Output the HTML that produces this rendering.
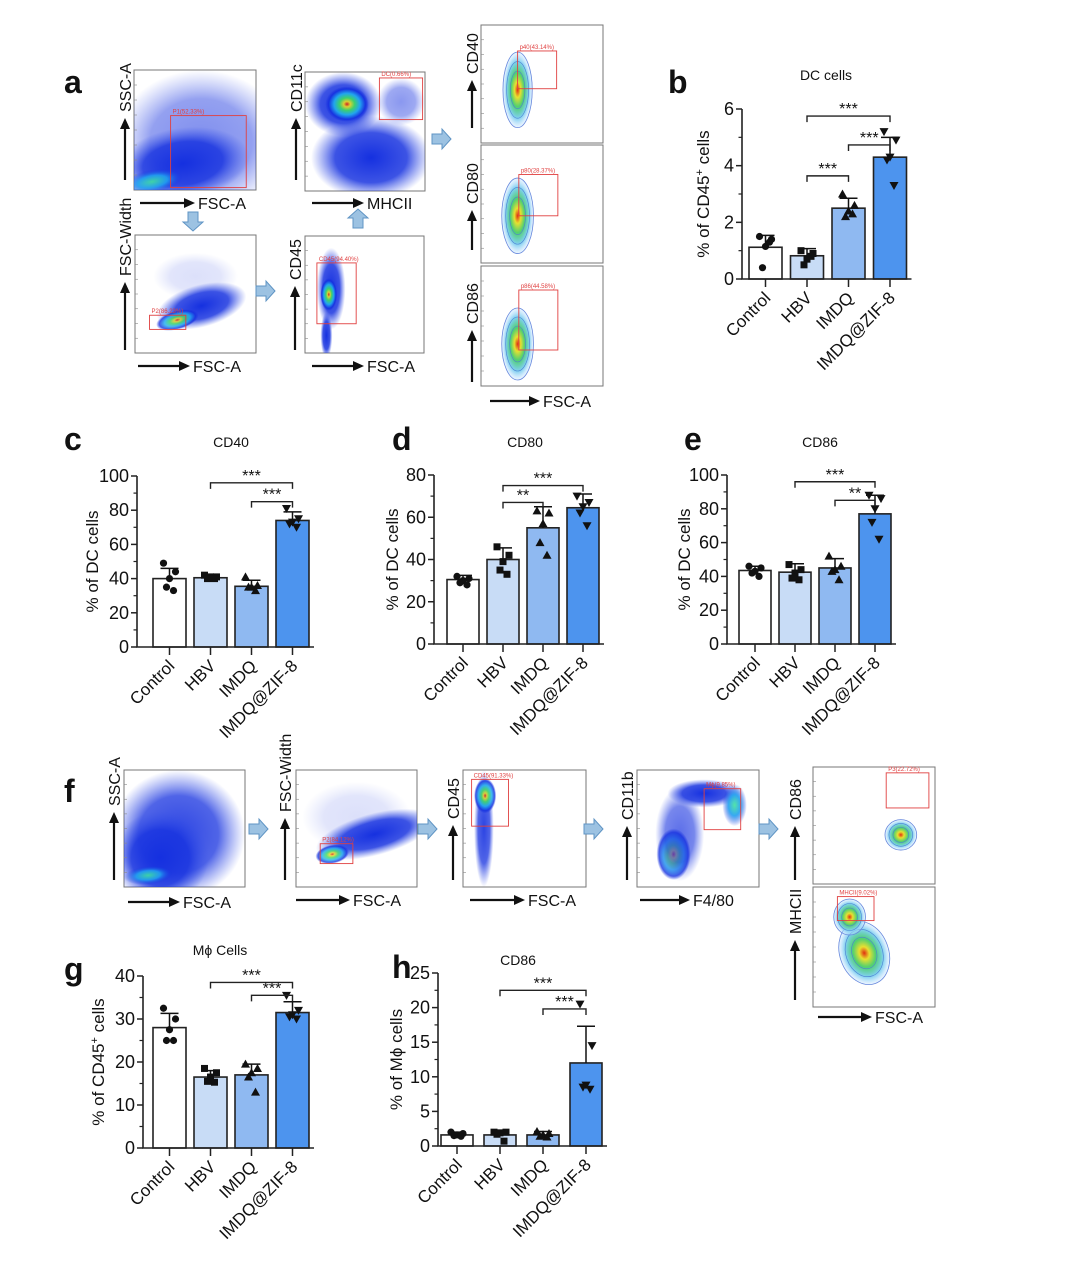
<!DOCTYPE html>
<html><head><meta charset="utf-8">
<style>
html,body{margin:0;padding:0;background:#fff;}
svg{display:block;font-family:"Liberation Sans",Arial,sans-serif;}
</style></head>
<body>
<svg id="fig" width="1080" height="1264" viewBox="0 0 1080 1264" xmlns="http://www.w3.org/2000/svg">
<defs>
<radialGradient id="scat"><stop offset="0" stop-color="#1530e0" stop-opacity="1"/><stop offset="0.6" stop-color="#1a35e0" stop-opacity="0.85"/><stop offset="1" stop-color="#3a55e8" stop-opacity="0"/></radialGradient>
<radialGradient id="hot"><stop offset="0" stop-color="#e02010"/><stop offset="0.15" stop-color="#f0e020"/><stop offset="0.35" stop-color="#40e060"/><stop offset="0.6" stop-color="#20b0f0"/><stop offset="0.85" stop-color="#1530e0"/><stop offset="1" stop-color="#1530e0" stop-opacity="0"/></radialGradient>
<radialGradient id="cyan"><stop offset="0" stop-color="#40e0a0"/><stop offset="0.5" stop-color="#20a0f0"/><stop offset="1" stop-color="#1530e0" stop-opacity="0"/></radialGradient>
<radialGradient id="cont"><stop offset="0" stop-color="#e03010"/><stop offset="0.2" stop-color="#e8e030"/><stop offset="0.45" stop-color="#50d070"/><stop offset="0.75" stop-color="#80d0f0"/><stop offset="1" stop-color="#c0e0ff" stop-opacity="0.3"/></radialGradient>
</defs>
<g id="flows"></g>
<g id="charts"></g>
</svg>
<script>
const NS='http://www.w3.org/2000/svg';
const svg=document.getElementById('fig');
const FL=document.getElementById('flows');
const CH=document.getElementById('charts');
function mk(tag,attrs,parent,text){const e=document.createElementNS(NS,tag);for(const k in attrs)e.setAttribute(k,attrs[k]);if(text!==undefined)e.textContent=text;(parent||svg).appendChild(e);return e;}

// ---------- chart data ----------
const categories=['Control','HBV','IMDQ','IMDQ@ZIF-8'];
const bMeans=[1.12,0.82,2.5,4.3];
const bSD=[0.42,0.25,0.35,0.7];
const bPts=[[1.5,1.4,1.15,0.4,1.3],[1.0,0.9,0.7,0.5,0.8],[3.0,2.6,2.4,2.2,2.3],[5.2,4.9,4.3,4.2,3.3]];
const bSig=[[1,3,5.75,'***'],[2,3,4.73,'***'],[1,2,3.64,'***']];
const bTicks=[0,2,4,6];
const cMeans=[40,40.5,35.5,74];
const cSD=[6,2,3.5,5];
const cPts=[[49,44,40,35,33],[42,41,41,40,40],[41,36,35,35,33],[81,75,73,72,70]];
const cSig=[[1,3,96,'***'],[2,3,85,'***']];
const cTicks=[0,20,40,60,80,100];
const dMeans=[30.5,40,55,64.5];
const dSD=[2,5.5,10,6.5];
const dPts=[[32,31,30,29,28],[46,42,39,35,33],[63,62,57,48,42],[70,67,65,62,56]];
const dSig=[[1,3,75,'***'],[1,2,67,'**']];
const dTicks=[0,20,40,60,80];
const eMeans=[43.5,42.5,45,77];
const eSD=[2.5,5,5.5,11];
const ePts=[[46,45,43,42,40],[47,44,42,39,38],[52,46,44,43,38],[88,86,80,72,62]];
const eSig=[[1,3,96,'***'],[2,3,85,'**']];
const eTicks=[0,20,40,60,80,100];
const gMeans=[28,16.5,17,31.5];
const gSD=[3.3,1.5,2.5,2.5];
const gPts=[[32.5,30,27.5,25,25],[18.5,17.5,16.5,15.5,15.3],[19.5,18.5,17.5,16.5,13],[35.5,32,31,30.5,30]];
const gSig=[[1,3,38.5,'***'],[2,3,35.5,'***']];
const gTicks=[0,10,20,30,40];
const hMeans=[1.6,1.6,1.6,12];
const hSD=[0.4,0.5,0.5,5.3];
const hPts=[[2,1.8,1.6,1.5,1.4],[2,2,1.9,1.7,0.7],[2.1,1.8,1.6,1.4,1.3],[20.5,14.5,8.8,8.5,8.2]];
const hSig=[[1,3,22.5,'***'],[2,3,19.8,'***']];
const hTicks=[0,5,10,15,20,25];

const fills=['#ffffff','#c8dcf6','#8fb9f1','#4d94ee'];

function marker(g,shape,x,y){
  let m;
  if(shape===0)m=mk('circle',{cx:x,cy:y,r:3.6,fill:'#111'},g);
  else if(shape===1)m=mk('rect',{x:x-3.5,y:y-3.5,width:7,height:7,fill:'#111'},g);
  else if(shape===2)m=mk('polygon',{points:`${x},${y-4.5} ${x-4.5},${y+3.5} ${x+4.5},${y+3.5}`,fill:'#111'},g);
  else m=mk('polygon',{points:`${x},${y+4.5} ${x-4.5},${y-3.5} ${x+4.5},${y-3.5}`,fill:'#111'},g);
  
  
}

function chart(o){
  const g=mk('g',{},CH);
  
  
  const max=o.ticks[o.ticks.length-1];
  const Y=v=>o.y0-(v/max)*(o.y0-o.yTop);
  const X=i=>o.bx+i*o.pitch+o.bw/2;
  o.means.forEach((v,i)=>{
    const r=mk('rect',{x:o.bx+i*o.pitch,y:Y(v),width:o.bw,height:o.y0-Y(v),fill:fills[i],stroke:'#222','stroke-width':1.6},g);
    
    
  });
  o.means.forEach((v,i)=>{
    const x=X(i),t=Y(v+o.sd[i]);
    const e=mk('path',{d:`M${x},${Y(v)}V${t}M${x-9},${t}H${x+9}`,stroke:'#111','stroke-width':1.5,fill:'none'},g);
    
    
  });
  o.pts.forEach((arr,i)=>{
    arr.forEach((v,j)=>{const off=[-6,6,0,-3,4][j];marker(g,i,X(i)+off,Y(v));});
  });
  const ax=mk('path',{d:`M${o.ax},${o.yTop}V${o.y0}H${o.bx+3*o.pitch+o.bw+5}`,stroke:'#222','stroke-width':1.6,fill:'none'},g);
  
  
  o.ticks.forEach((t,k)=>{
    const y=Y(t);
    mk('line',{x1:o.ax-6,x2:o.ax,y1:y,y2:y,stroke:'#222','stroke-width':1.5},g);
    if(k<o.ticks.length-1){const ym=Y(t+(o.ticks[1]-o.ticks[0])/2);mk('line',{x1:o.ax-3.5,x2:o.ax,y1:ym,y2:ym,stroke:'#222','stroke-width':1.2},g);}
    const tl=mk('text',{x:o.ax-8,y:y+6,'text-anchor':'end','font-size':18,fill:'#111'},g,String(t));
    
    
  });
  categories.forEach((c,i)=>{
    const x=X(i);
    mk('line',{x1:x,x2:x,y1:o.y0,y2:o.y0+8,stroke:'#222','stroke-width':1.5},g);
    const tl=mk('text',{x:x+6,y:o.y0+20,'text-anchor':'end','font-size':17,fill:'#111',transform:`rotate(-45 ${x+6} ${o.y0+20})`},g,c);
    
    
  });
  const yc=(o.y0+o.yTop)/2;
  const yt=mk('text',{x:o.ytx,y:yc,'text-anchor':'middle','font-size':17,fill:'#111',transform:`rotate(-90 ${o.ytx} ${yc})`},g);
  
  
  if(o.sup){
    mk('tspan',{},yt,o.ytitle[0]);mk('tspan',{dy:-6,'font-size':11},yt,o.sup);mk('tspan',{dy:6},yt,o.ytitle[1]);
  } else yt.textContent=o.ytitle;
  const tt=mk('text',{x:o.tx,y:o.ty,'text-anchor':'middle','font-size':14,fill:'#111'},g,o.title);
  
  
  o.sig.forEach(s=>{
    const x1=X(s[0]),x2=X(s[1]),y=Y(s[2]);
    const b=mk('path',{d:`M${x1},${y+6}V${y}H${x2}V${y+6}`,stroke:'#222','stroke-width':1.4,fill:'none'},g);
    
    
    const st=mk('text',{x:(x1+x2)/2,y:y-2,'text-anchor':'middle','font-size':16,fill:'#111'},g,s[3]);
    
    
  });
}

chart({name:'chart-b-dc-cells',ax:742,y0:279,yTop:109,bx:749,pitch:41.5,bw:33,ticks:bTicks,means:bMeans,sd:bSD,pts:bPts,sig:bSig,ytitle:['% of CD45',' cells'],sup:'+',ytx:709,title:'DC cells',tx:826,ty:80});
chart({name:'chart-c-cd40',ax:137,y0:647,yTop:476,bx:153,pitch:41,bw:33,ticks:cTicks,means:cMeans,sd:cSD,pts:cPts,sig:cSig,ytitle:'% of DC cells',ytx:98,title:'CD40',tx:231,ty:447});
chart({name:'chart-d-cd80',ax:434,y0:644,yTop:475,bx:447,pitch:40,bw:32,ticks:dTicks,means:dMeans,sd:dSD,pts:dPts,sig:dSig,ytitle:'% of DC cells',ytx:398,title:'CD80',tx:525,ty:447});
chart({name:'chart-e-cd86',ax:727,y0:644,yTop:475,bx:739,pitch:40,bw:32,ticks:eTicks,means:eMeans,sd:eSD,pts:ePts,sig:eSig,ytitle:'% of DC cells',ytx:690,title:'CD86',tx:820,ty:447});
chart({name:'chart-g-macrophage',ax:143,y0:1148,yTop:976,bx:153,pitch:41,bw:33,ticks:gTicks,means:gMeans,sd:gSD,pts:gPts,sig:gSig,ytitle:['% of CD45',' cells'],sup:'+',ytx:104,title:'Mϕ Cells',tx:220,ty:955});
chart({name:'chart-h-cd86-macrophage',ax:438,y0:1146,yTop:973,bx:441,pitch:43,bw:32,ticks:hTicks,means:hMeans,sd:hSD,pts:hPts,sig:hSig,ytitle:'% of Mϕ  cells',ytx:402,title:'CD86',tx:518,ty:965});

[['a',64,93],['b',668,93],['c',64,450],['d',392,450],['e',684,450],['f',64,802],['g',64,980],['h',392,978]].forEach(l=>{
  const t=mk('text',{x:l[1],y:l[2],'font-size':32,'font-weight':'bold',fill:'#111'},svg,l[0]);
  
  
});

function arrowV(x,y1,y2,label){
  mk('line',{x1:x,x2:x,y1:y1,y2:y2+8,stroke:'#111','stroke-width':2.2},FL);
  mk('polygon',{points:`${x},${y2} ${x-5},${y2+11} ${x+5},${y2+11}`,fill:'#111'},FL);
  const t=mk('text',{x:x+6,y:y2-6,'font-size':16,fill:'#111',transform:`rotate(-90 ${x+6} ${y2-6})`},FL,label);
  
  
}
function arrowH(x1,x2,y,label){
  mk('line',{x1:x1,x2:x2-8,y1:y,y2:y,stroke:'#111','stroke-width':2.2},FL);
  mk('polygon',{points:`${x2},${y} ${x2-11},${y-5} ${x2-11},${y+5}`,fill:'#111'},FL);
  const t=mk('text',{x:x2+3,y:y+6,'font-size':16,fill:'#111'},FL,label);
  
  
}
function fat(x,y,dir){
  const p={r:`-9,-5 1,-5 1,-10 10,0 1,10 1,5 -9,5`,d:`-5,-9 5,-9 5,1 10,1 0,10 -10,1 -5,1`,u:`-5,9 5,9 5,-1 10,-1 0,-10 -10,-1 -5,-1`}[dir];
  const a=mk('polygon',{points:p,transform:`translate(${x} ${y})`,fill:'#9cc2e2',stroke:'#5f94c4','stroke-width':1},FL);
  
  
}
function flow(name,x,y,w,h,blobs,gate){
  const g=mk('g',{},FL);
  
  
  mk('rect',{x:x,y:y,width:w,height:h,fill:'#fff',stroke:'#777','stroke-width':1},g);
  const cp='cp'+name;
  const c=mk('clipPath',{id:cp},g);mk('rect',{x:x,y:y,width:w,height:h},c);
  const inner=mk('g',{'clip-path':`url(#${cp})`},g);
  blobs.forEach(b=>{
    const [fx,fy,rx,ry,rot,type,op]=b;
    const cx=x+fx*w,cy=y+fy*h;
    if(type==='contour'){
      mk('ellipse',{cx:cx,cy:cy,rx:rx*w,ry:ry*h,transform:`rotate(${rot} ${cx} ${cy})`,fill:'url(#cont)',stroke:'#6688dd','stroke-width':0.8},inner);
      [0.75,0.5].forEach(s=>mk('ellipse',{cx:cx,cy:cy,rx:rx*w*s,ry:ry*h*s,transform:`rotate(${rot} ${cx} ${cy})`,fill:'none',stroke:'#4d7fd0','stroke-width':0.6},inner));
    } else mk('ellipse',{cx:cx,cy:cy,rx:rx*w,ry:ry*h,transform:`rotate(${rot} ${cx} ${cy})`,fill:`url(#${type})`,opacity:op||1},inner);
  });
  if(gate){const gr=mk('rect',{x:x+gate[0]*w,y:y+gate[1]*h,width:gate[2]*w,height:gate[3]*h,fill:'none',stroke:'#e04040','stroke-width':0.9},g);
    
    mk('text',{x:x+gate[0]*w+2,y:y+gate[1]*h-2,'font-size':6,fill:'#e04040'},g,gate[4]);}
  for(let i=1;i<8;i++)mk('line',{x1:x,x2:x+3,y1:y+i*h/8,y2:y+i*h/8,stroke:'#888','stroke-width':0.6},g);
}
flow('flow-ssc-fsc',134,70,122,120,[[0.55,0.6,0.7,0.6,0,'scat',0.55],[0.4,0.78,0.55,0.3,-8,'scat',1],[0.15,0.93,0.25,0.1,-10,'cyan',0.9]],[0.3,0.38,0.62,0.6,'P1(52.33%)']);
flow('flow-cd11c-mhcii',305,72,120,119,[[0.32,0.27,0.32,0.27,0,'scat',1],[0.35,0.27,0.18,0.15,0,'hot',0.9],[0.55,0.72,0.5,0.35,0,'scat',1],[0.8,0.25,0.2,0.2,0,'scat',0.5]],[0.62,0.05,0.36,0.35,'DC(0.66%)']);
flow('flow-fscwidth-fsc',135,235,121,118,[[0.55,0.6,0.38,0.18,-15,'scat',1],[0.35,0.72,0.18,0.08,-15,'hot',0.8],[0.5,0.35,0.35,0.2,0,'scat',0.15]],[0.12,0.68,0.3,0.12,'P2(86.23%)']);
flow('flow-cd45-fsc',305,236,119,117,[[0.22,0.45,0.12,0.35,0,'scat',1],[0.2,0.5,0.07,0.14,0,'hot',0.9],[0.18,0.85,0.05,0.2,0,'scat',1]],[0.1,0.23,0.33,0.52,'CD45(94.40%)']);
flow('flow-cd40',481,25,122,118,[[0.3,0.55,0.12,0.32,0,'contour']],[0.3,0.22,0.32,0.32,'p40(43.14%)']);
flow('flow-cd80',481,145,122,118,[[0.3,0.6,0.13,0.32,0,'contour']],[0.31,0.25,0.32,0.35,'p80(28.37%)']);
flow('flow-cd86',481,266,122,120,[[0.3,0.65,0.13,0.3,0,'contour']],[0.31,0.2,0.32,0.5,'p86(44.58%)']);
arrowV(125,180,118,'SSC-A');arrowH(140,195,203,'FSC-A');
arrowV(296,180,118,'CD11c');arrowH(312,364,203,'MHCII');
arrowV(125,350,282,'FSC-Width');arrowH(138,190,366,'FSC-A');
arrowV(295,350,286,'CD45');arrowH(312,364,366,'FSC-A');
arrowV(472,128,80,'CD40');arrowV(472,250,210,'CD80');arrowV(472,382,330,'CD86');
arrowH(490,540,401,'FSC-A');
fat(193,221,'d');fat(358,219,'u');fat(265,291,'r');fat(441,139,'r');
flow('flow-f-ssc-fsc',124,770,121,117,[[0.45,0.55,0.55,0.55,0,'scat',0.9],[0.3,0.75,0.4,0.4,0,'scat',1],[0.2,0.9,0.2,0.08,-5,'cyan',0.9]],null);
flow('flow-f-fscwidth-fsc',296,770,121,117,[[0.65,0.55,0.5,0.18,-15,'scat',1],[0.3,0.72,0.14,0.08,-10,'hot',0.8],[0.5,0.4,0.45,0.3,0,'scat',0.15]],[0.2,0.63,0.27,0.17,'P2(84.12%)']);
flow('flow-f-cd45-fsc',463,770,123,117,[[0.17,0.5,0.08,0.5,0,'scat',0.9],[0.18,0.22,0.09,0.15,0,'hot',0.85]],[0.07,0.08,0.3,0.4,'CD45(91.33%)']);
flow('flow-f-cd11b-f480',637,770,122,117,[[0.3,0.72,0.14,0.22,0,'hot',0.8],[0.35,0.55,0.2,0.4,0,'scat',0.7],[0.55,0.2,0.3,0.12,0,'scat',1],[0.8,0.3,0.1,0.18,0,'cyan',0.9]],[0.55,0.16,0.3,0.35,'Mϕ(9.85%)']);
flow('flow-f-cd86',813,767,122,117,[[0.72,0.58,0.13,0.13,0,'contour']],[0.6,0.05,0.35,0.3,'P3(22.72%)']);
flow('flow-f-mhcii',813,887,122,120,[[0.42,0.55,0.2,0.27,-20,'contour'],[0.3,0.25,0.13,0.15,0,'contour']],[0.2,0.08,0.3,0.2,'MHCII(9.02%)']);
arrowV(114,880,812,'SSC-A');arrowH(128,180,902,'FSC-A');
arrowV(285,880,818,'FSC-Width');arrowH(296,350,900,'FSC-A');
arrowV(453,880,825,'CD45');arrowH(470,525,900,'FSC-A');
arrowV(627,880,826,'CD11b');arrowH(640,690,900,'F4/80');
arrowV(795,880,826,'CD86');arrowV(795,1000,940,'MHCII');arrowH(818,872,1017,'FSC-A');
fat(258,829,'r');fat(427,829,'r');fat(593,829,'r');fat(768,829,'r');
</script>
</body></html>
